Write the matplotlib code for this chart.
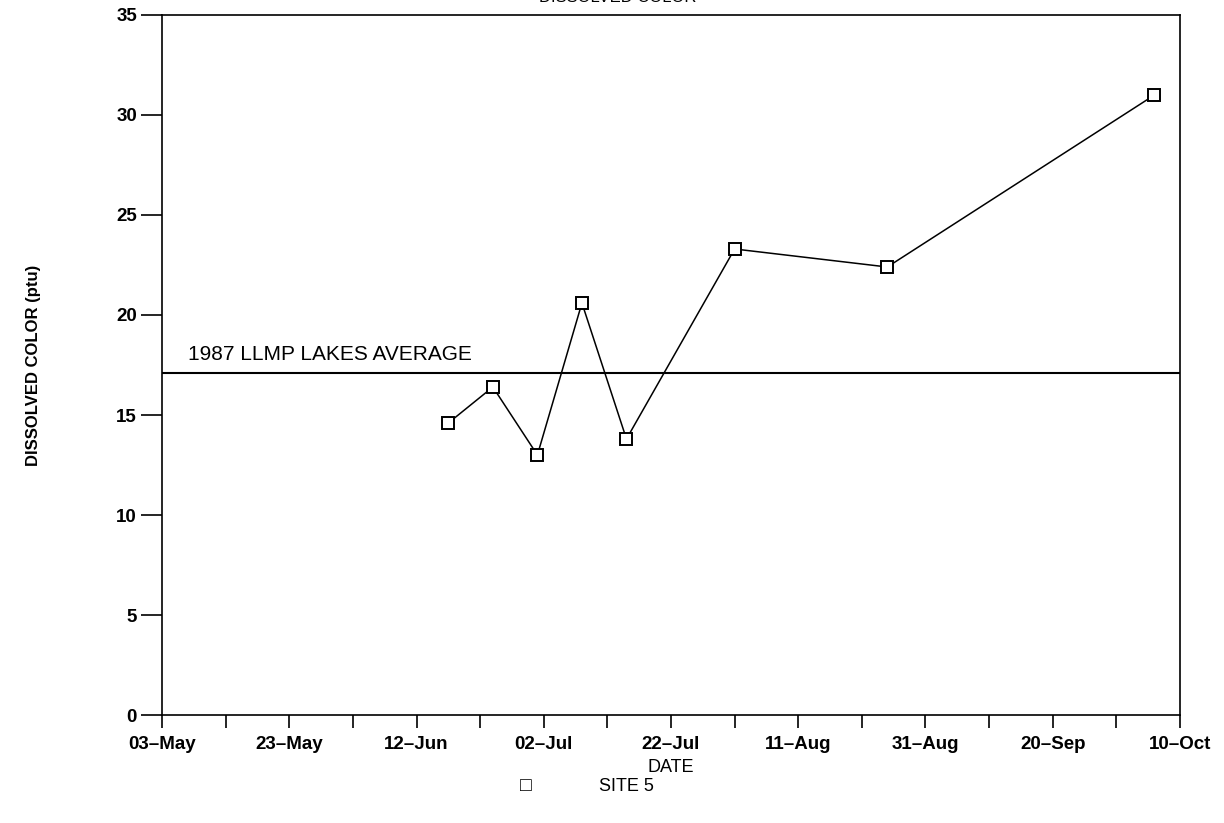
import datetime as dt
import matplotlib
matplotlib.use("Agg")
import matplotlib.pyplot as plt

# Site 5 sampling dates and dissolved color values (1987)
sample_dates = ["1987-06-17", "1987-06-24", "1987-07-01", "1987-07-08",
                "1987-07-15", "1987-08-01", "1987-08-25", "1987-10-06"]
color_ptu = [14.6, 16.4, 13.0, 20.6, 13.8, 23.3, 22.4, 31.0]

lakes_average = 17.1
tick_labels = ["03–May", "23–May", "12–Jun", "02–Jul", "22–Jul",
               "11–Aug", "31–Aug", "20–Sep", "10–Oct"]

plt.rcParams['font.family'] = ['Liberation Sans', 'DejaVu Sans']

dates = [dt.datetime.strptime(d, "%Y-%m-%d") for d in sample_dates]
start = dt.datetime(1987, 5, 3)
end = dt.datetime(1987, 10, 10)

fig = plt.figure(figsize=(12.24, 8.23), dpi=100)
ax = fig.add_axes([0.1324, 0.1312, 0.8316, 0.8506])

ax.plot(dates, color_ptu, color='black', linewidth=1.1,
        marker='s', markersize=8, markerfacecolor='white',
        markeredgecolor='black', markeredgewidth=1.4)

# Lakes average line
ax.axhline(lakes_average, color='black', linewidth=1.5)
ax.text(dt.datetime(1987, 5, 7), lakes_average + 0.45, "1987 LLMP LAKES AVERAGE",
        fontsize=15, ha='left', va='bottom')

ax.set_xlim(start, end)
ax.set_ylim(0, 35)

major = [start + dt.timedelta(days=20 * i) for i in range(9)]
minor = [start + dt.timedelta(days=10 + 20 * i) for i in range(8)]
ax.set_xticks(major)
ax.set_xticklabels(tick_labels, fontsize=13.5, fontweight='bold')
ax.set_xticks(minor, minor=True)
ax.set_yticks(range(0, 36, 5))
ax.set_yticklabels([str(v) for v in range(0, 36, 5)], fontsize=13.5, fontweight='bold')

ax.tick_params(axis='x', which='both', direction='out', length=9, width=1.2, pad=6)
ax.tick_params(axis='y', direction='out', length=15, width=1.2, pad=3)
for s in ax.spines.values():
    s.set_linewidth(1.2)

ax.set_ylabel("DISSOLVED COLOR (ptu)", fontsize=12, fontweight='bold', labelpad=54)

fig.text(0.548, 0.067, "DATE", fontsize=13, ha='center', va='center')
fig.text(0.430, 0.044, "\u25a1", fontsize=14, ha='center', va='center')
fig.text(0.512, 0.044, "SITE 5", fontsize=13, ha='center', va='center')

# top title is mostly cut off in the original scan
fig.text(0.505, 1.003, "DISSOLVED COLOR", fontsize=12, ha='center', va='center')

fig.savefig("out.png", dpi=100)
